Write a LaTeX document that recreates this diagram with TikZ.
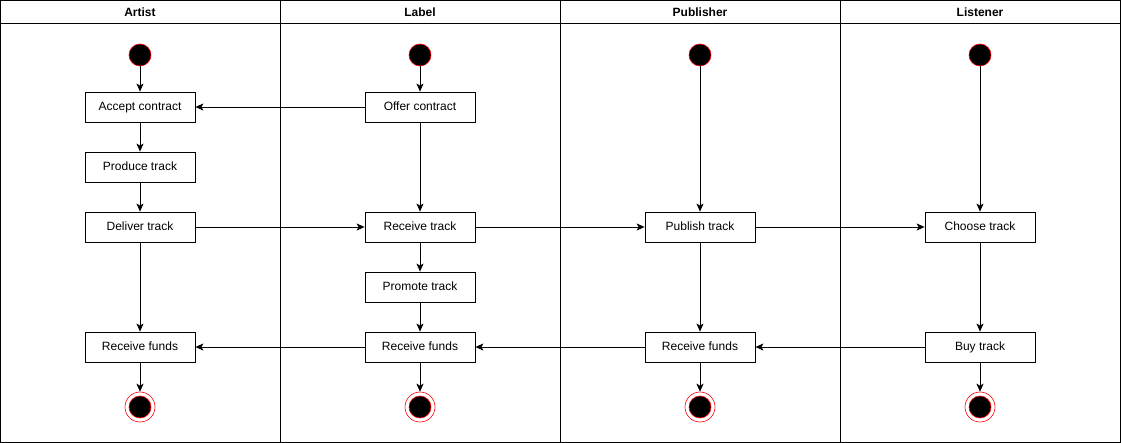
\documentclass[tikz,border=0pt]{standalone}
\usepackage{fontspec}
\setmainfont{Liberation Sans}
\usetikzlibrary{arrows.meta}
\begin{document}
\begin{tikzpicture}[x=1pt,y=-1pt,
  lane/.style={draw=black,line width=0.8pt},
  act/.style={draw=black,fill=white,line width=0.8pt,minimum width=110pt,minimum height=30pt,inner sep=0pt,
     text height=8.6pt,text depth=2.4pt,font=\fontsize{12}{14}\selectfont},
  startnode/.style={circle,fill=black,draw=red,line width=0.6pt,minimum size=22pt,inner sep=0pt},
  endnode/.style={circle,fill=white,draw=red,line width=0.6pt,minimum size=30pt,inner sep=0pt,
     path picture={\fill[black,draw=red,line width=0.6pt] (path picture bounding box.center) circle (11pt);}},
  hdr/.style={font=\bfseries\fontsize{12}{14}\selectfont},
  flow/.style={draw=black,line width=0.7pt,-{Stealth[length=8pt,width=7pt,inset=2pt]}}]
\useasboundingbox (0,0) rectangle (1121,443);
% lanes
\foreach \i in {0,1,2,3}{
  \draw[lane] (\i*280+0.5,0.5) rectangle (\i*280+280.5,442.5);
  \draw[lane] (\i*280+0.5,23.5) -- (\i*280+280.5,23.5);
}
\node[hdr] (hA) at (140,12) {Artist};
\node[hdr] (hL) at (420,12) {Label};
\node[hdr] (hP) at (700,12) {Publisher};
\node[hdr] (hU) at (980,12) {Listener};
% start nodes
\node[startnode] (sA) at (140,55) {};
\node[startnode] (sL) at (420,55) {};
\node[startnode] (sP) at (700,55) {};
\node[startnode] (sU) at (980,55) {};
% end nodes
\node[endnode] (eA) at (140,407) {};
\node[endnode] (eL) at (420,407) {};
\node[endnode] (eP) at (700,407) {};
\node[endnode] (eU) at (980,407) {};
% activities
\node[act] (accept) at (140,107) {Accept contract};
\node[act] (produce) at (140,167) {Produce track};
\node[act] (deliver) at (140,227) {Deliver track};
\node[act] (fundsA) at (140,347) {Receive funds};
\node[act] (offer) at (420,107) {Offer contract};
\node[act] (rtrack) at (420,227) {Receive track};
\node[act] (promote) at (420,287) {Promote track};
\node[act] (fundsL) at (420,347) {Receive funds};
\node[act] (publish) at (700,227) {Publish track};
\node[act] (fundsP) at (700,347) {Receive funds};
\node[act] (choose) at (980,227) {Choose track};
\node[act] (buy) at (980,347) {Buy track};
% flows
\draw[flow] (sA) -- (accept);
\draw[flow] (accept) -- (produce);
\draw[flow] (produce) -- (deliver);
\draw[flow] (deliver) -- (fundsA);
\draw[flow] (fundsA) -- (eA);
\draw[flow] (sL) -- (offer);
\draw[flow] (offer) -- (accept);
\draw[flow] (offer) -- (rtrack);
\draw[flow] (deliver) -- (rtrack);
\draw[flow] (rtrack) -- (promote);
\draw[flow] (promote) -- (fundsL);
\draw[flow] (fundsL) -- (fundsA);
\draw[flow] (fundsL) -- (eL);
\draw[flow] (rtrack) -- (publish);
\draw[flow] (sP) -- (publish);
\draw[flow] (publish) -- (fundsP);
\draw[flow] (fundsP) -- (fundsL);
\draw[flow] (fundsP) -- (eP);
\draw[flow] (publish) -- (choose);
\draw[flow] (sU) -- (choose);
\draw[flow] (choose) -- (buy);
\draw[flow] (buy) -- (fundsP);
\draw[flow] (buy) -- (eU);
\end{tikzpicture}
\end{document}
